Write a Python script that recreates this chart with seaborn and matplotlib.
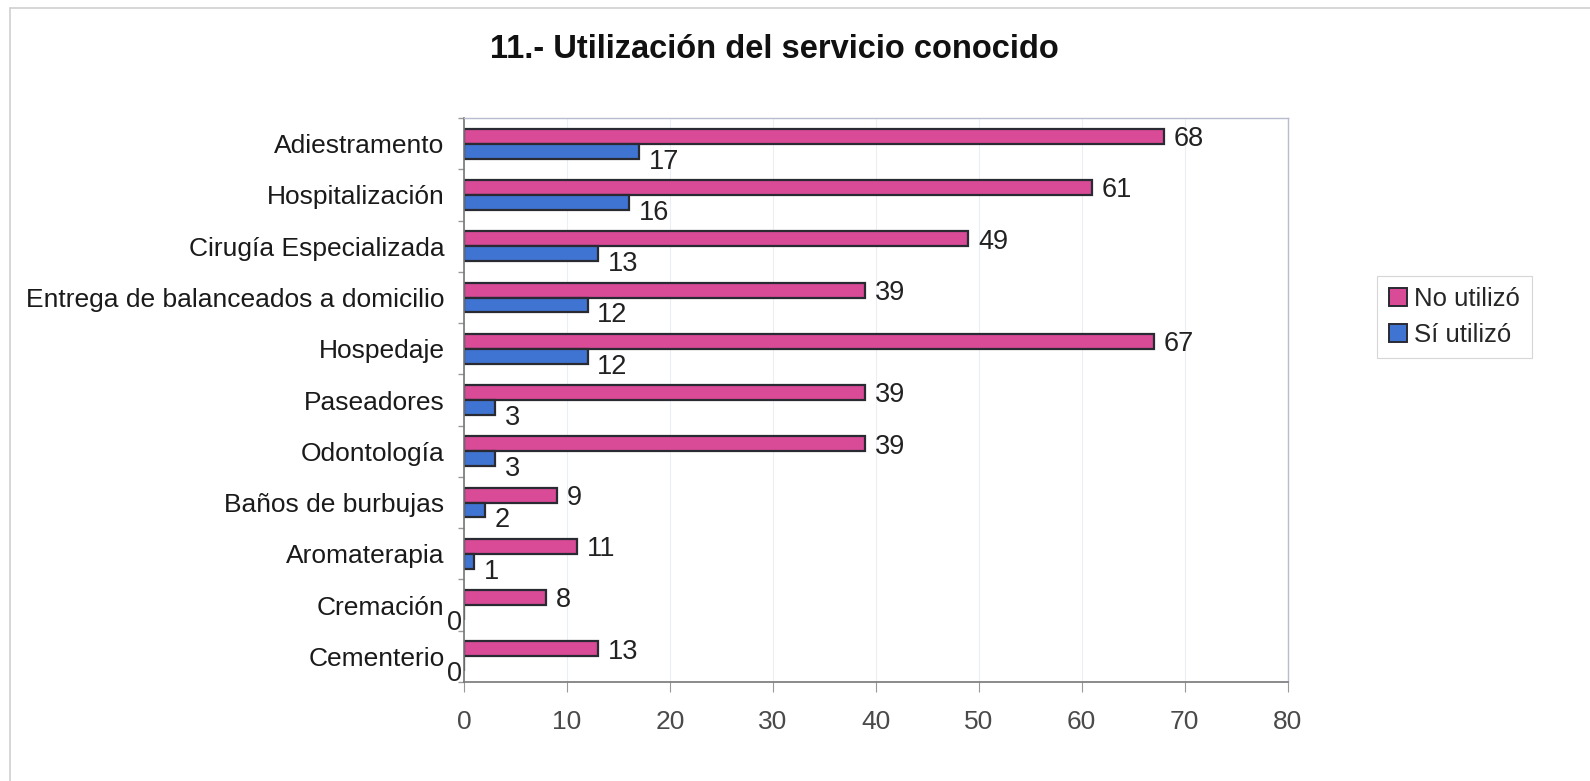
import matplotlib
matplotlib.use("Agg")
import matplotlib.pyplot as plt
from matplotlib.lines import Line2D
import seaborn as sns
import pandas as pd
import numpy as np

categories = [
    "Adiestramento", "Hospitalización", "Cirugía Especializada",
    "Entrega de balanceados a domicilio", "Hospedaje", "Paseadores",
    "Odontología", "Baños de burbujas", "Aromaterapia", "Cremación",
    "Cementerio",
]
no_utilizo = [68, 61, 49, 39, 67, 39, 39, 9, 11, 8, 13]
si_utilizo = [17, 16, 13, 12, 12, 3, 3, 2, 1, 0, 0]
series_names = ["No utilizó", "Sí utilizó"]
x_ticks = [0, 10, 20, 30, 40, 50, 60, 70, 80]

df = pd.DataFrame({
    "servicio": categories * 2,
    "valor": no_utilizo + si_utilizo,
    "uso": [series_names[0]] * len(categories) + [series_names[1]] * len(categories),
})

sns.set_theme(style="white")
plt.rcParams["font.family"] = ["Liberation Sans", "DejaVu Sans"]

pink = "#D94A97"
blue = "#3F74D2"
FS = 19

fig = plt.figure(figsize=(15.9, 7.81), dpi=100)
ax = fig.add_axes([0.2918, 0.1268, 0.518, 0.722])

sns.barplot(data=df, y="servicio", x="valor", hue="uso", order=categories,
            hue_order=series_names, palette=[pink, blue], orient="h",
            width=0.58, dodge=True, edgecolor="#2a2a33", linewidth=1.6,
            saturation=1, ax=ax, legend=True)

ax.set_xlim(0, 80)
ax.set_ylim(len(categories) - 0.5, -0.5)
ax.set_xticks(x_ticks)
ax.set_xticklabels([str(t) for t in x_ticks], fontsize=FS, color="#4a4a4a")
ax.tick_params(axis="x", length=7, width=0.8, color="#999999", pad=13, bottom=True)
ax.tick_params(axis="y", length=0, pad=14)
for lbl in ax.get_yticklabels():
    lbl.set_fontsize(FS)
    lbl.set_color("#1a1a1a")
ax.set_yticks(np.arange(-0.5, len(categories), 1), minor=True)
ax.tick_params(axis="y", which="minor", length=4, color="#999999", left=True)
ax.set_xlabel("")
ax.set_ylabel("")

ax.grid(axis="x", color="#eceef4", linewidth=0.8)
ax.set_axisbelow(True)
for side in ["top", "right"]:
    ax.spines[side].set_color("#b8bccf")
    ax.spines[side].set_linewidth(1.0)
for side in ["left", "bottom"]:
    ax.spines[side].set_color("#777777")
    ax.spines[side].set_linewidth(1.2)

# value labels beside each bar; zero-length bars get their label just left of the axis
for cont, dy in zip(ax.containers, [-2.0, -7.5]):
    for bar in cont:
        w = bar.get_width()
        yc = bar.get_y() + bar.get_height() / 2
        if w == 0:
            ax.annotate("0", xy=(w, yc), xytext=(-12, dy), textcoords="offset points",
                        ha="left", va="center", fontsize=FS + 0.5, color="#222222",
                        annotation_clip=False)
        else:
            ax.annotate(f"{int(round(w))}", xy=(w, yc), xytext=(7, dy),
                        textcoords="offset points", ha="left", va="center",
                        fontsize=FS + 0.5, color="#222222")

leg = ax.legend(loc="center left", bbox_to_anchor=(1.093, 0.647), fontsize=FS - 0.5,
                frameon=True, fancybox=False, edgecolor="#cccccc",
                handlelength=0.7, handleheight=0.7, handletextpad=0.3,
                borderpad=0.45, labelspacing=0.45, title=None)
leg.get_frame().set_linewidth(0.8)
for h in leg.legend_handles:
    h.set_edgecolor("#2a2a33")
    h.set_linewidth(1.4)

fig.text(0.487, 0.936, "11.- Utilización del servicio conocido", ha="center",
         va="center", fontsize=23.5, fontweight="bold", color="#111111")

# thin outer frame of the chart area
fig.add_artist(Line2D([0.006, 1.0], [0.99, 0.99], color="#d0d0d0", linewidth=1.2,
                      transform=fig.transFigure))
fig.add_artist(Line2D([0.006, 0.006], [0.0, 0.99], color="#d0d0d0", linewidth=1.2,
                      transform=fig.transFigure))

fig.savefig("out.png", dpi=100)
